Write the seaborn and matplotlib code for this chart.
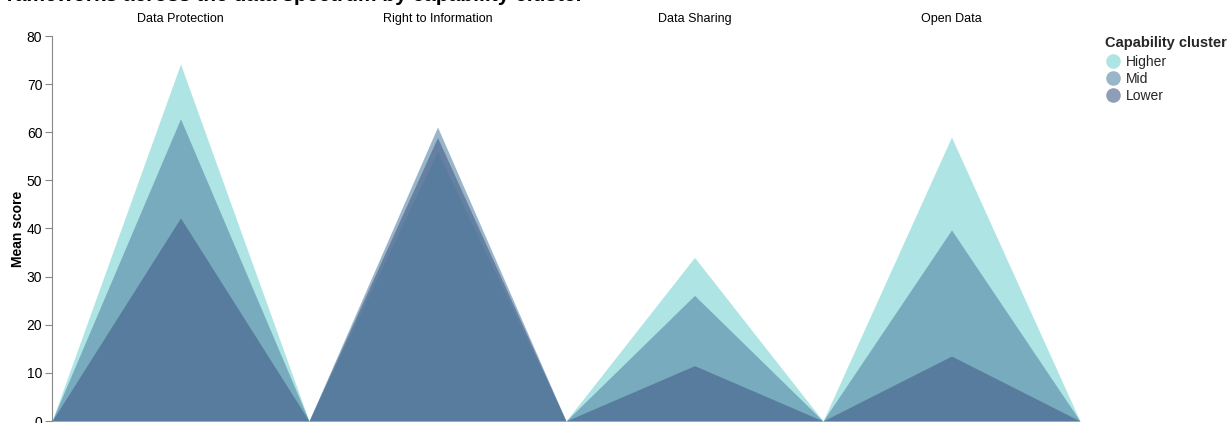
import numpy as np
import pandas as pd
import matplotlib
matplotlib.use("Agg")
import matplotlib.pyplot as plt
from matplotlib.lines import Line2D
import seaborn as sns

# Mean scores
categories = ["Data Protection", "Right to Information", "Data Sharing", "Open Data"]
clusters = ["Higher", "Mid", "Lower"]
higher = [74.2, 56.0, 34.0, 59.0]
mid = [62.8, 61.1, 26.1, 39.7]
lower = [42.2, 58.9, 11.5, 13.5]

colors = {"Higher": "#78d5d2", "Mid": "#5485a5", "Lower": "#435e87"}
alpha = 0.6

sns.set_theme(style="white")
plt.rcParams["font.family"] = ["Liberation Sans", "DejaVu Sans"]

df = pd.DataFrame({"category": categories, "Higher": higher, "Mid": mid, "Lower": lower})
long = df.melt(id_vars="category", var_name="cluster", value_name="score")

fig = plt.figure(figsize=(12.29, 4.23), dpi=100)
ax = fig.add_axes([52 / 1229, 2 / 423, 1028 / 1229, 385 / 423])

# each category gets a unit band; the triangle rises to the score at the band centre
for cl in clusters:
    sub = long[long.cluster == cl]
    for i, cat in enumerate(categories):
        v = sub.loc[sub.category == cat, "score"].iloc[0]
        xs = np.array([i, i + 0.5, i + 1])
        ys = np.array([0, v, 0])
        ax.fill_between(xs, ys, 0, color=colors[cl], alpha=alpha, linewidth=0)

ax.set_xlim(0, len(categories))
ax.set_ylim(0, 80)
ax.set_yticks(range(0, 81, 10))
ax.set_xticks([])
ax.tick_params(axis="y", labelsize=10, labelcolor="black", length=5, width=0.8,
               color="#888888", left=True, pad=2)
sns.despine(ax=ax, top=True, right=True, bottom=True)
ax.spines["left"].set_color("#888888")
ax.spines["left"].set_linewidth(0.8)
ax.set_ylabel("Mean score", fontsize=10, fontweight="bold", color="black")
ax.yaxis.set_label_coords(-27 / 1028, 0.5)

for i, cat in enumerate(categories):
    ax.text(i + 0.5, 1.045, cat, transform=ax.get_xaxis_transform(), ha="center", va="center",
            fontsize=9, color="black")

fig.text(-6 / 1229, 1 - 1 / 423, "Frameworks across the data spectrum by capability cluster",
         fontsize=15, fontweight="bold", ha="left", va="baseline", color="black")

handles = [Line2D([0], [0], marker="o", linestyle="none", markersize=10.5,
                  markerfacecolor=colors[c], markeredgewidth=0, alpha=alpha) for c in clusters]
leg = fig.legend(handles, clusters, title="Capability cluster", loc="upper left",
                 bbox_to_anchor=(1099 / 1229, 1 - 30 / 423), frameon=False, fontsize=10,
                 title_fontproperties={"weight": "bold", "size": 10.5},
                 handletextpad=0.3, labelspacing=0.2, borderaxespad=0, handlelength=1.2)
leg._legend_box.align = "left"
leg._legend_box.sep = 4

fig.savefig("out.png", dpi=100)
